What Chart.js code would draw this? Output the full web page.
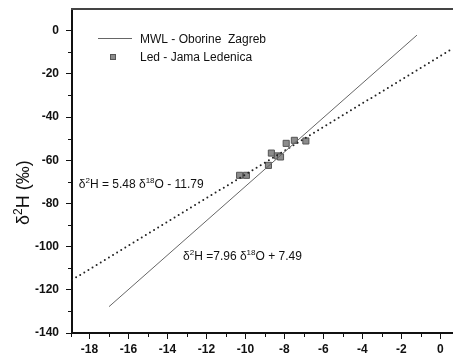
<!DOCTYPE html>
<html>
<head>
<meta charset="utf-8">
<script src="https://cdn.jsdelivr.net/npm/chart.js@4.4.0/dist/chart.umd.min.js"></script>
<style>
  html, body { margin: 0; padding: 0; background: #fff; }
  canvas { display: block; }
</style>
</head>
<body>
<canvas id="isoChart" width="453" height="357"></canvas>
<script>
const xTicks = [-18, -16, -14, -12, -10, -8, -6, -4, -2, 0];
const yTicks = [-140, -120, -100, -80, -60, -40, -20, 0];

// MWL (solid) and ice regression line (dotted), end points
const mwlX = [-17, -1.2];
const mwlY = [-127.8, -2.1];
const iceLineX = [-18.9, 0.65];
const iceLineY = [-115.4, -8.2];

// Led - Jama Ledenica samples
const iceX = [-10.3, -9.95, -8.82, -8.67, -8.36, -8.2, -7.91, -7.49, -6.9];
const iceY = [-67, -67, -62.4, -56.7, -58, -58.5, -52.2, -50.8, -51.1];

const legendLabels = ['MWL - Oborine  Zagreb', 'Led - Jama Ledenica'];
const yTitle = [['δ', false], ['2', true], ['H (‰)', false]];
const eqIce = [['δ', false], ['2', true], ['H = 5.48 δ', false], ['18', true], ['O - 11.79', false]];
const eqMwl = [['δ', false], ['2', true], ['H =7.96 δ', false], ['18', true], ['O + 7.49', false]];

const toPts = (xs, ys) => xs.map((x, i) => ({ x: x, y: ys[i] }));

const FONT = '"Liberation Sans", Arial, sans-serif';

// draws text with superscript parts, starting at x (left) on baseline y
function drawRich(ctx, parts, x, y, size) {
    let cx = x;
    parts.forEach(([txt, sup]) => {
        ctx.font = (sup ? Math.round(size * 0.65) : size) + 'px ' + FONT;
        ctx.fillText(txt, cx, sup ? y - size * 0.4 : y);
        cx += ctx.measureText(txt).width;
    });
    return cx - x;
}
function richWidth(ctx, parts, size) {
    let w = 0;
    parts.forEach(([txt, sup]) => {
        ctx.font = (sup ? Math.round(size * 0.65) : size) + 'px ' + FONT;
        w += ctx.measureText(txt).width;
    });
    return w;
}

const extras = {
    id: 'extras',
    afterDraw(chart) {
        const ctx = chart.ctx;
        const area = chart.chartArea;
        const xs = chart.scales.x, ys = chart.scales.y;
        ctx.save();

        // top frame line
        ctx.strokeStyle = '#444';
        ctx.lineWidth = 2;
        ctx.beginPath();
        ctx.moveTo(area.left - 1, area.top);
        ctx.lineTo(area.right, area.top);
        ctx.stroke();

        // minor ticks halfway between majors
        ctx.strokeStyle = '#111';
        ctx.lineWidth = 1;
        ctx.beginPath();
        for (let i = 0; i < xTicks.length - 1; i++) {
            const px = Math.round(xs.getPixelForValue((xTicks[i] + xTicks[i + 1]) / 2)) + 0.5;
            ctx.moveTo(px, area.bottom);
            ctx.lineTo(px, area.bottom + 4);
        }
        for (let i = 0; i < yTicks.length - 1; i++) {
            const py = Math.round(ys.getPixelForValue((yTicks[i] + yTicks[i + 1]) / 2)) + 0.5;
            ctx.moveTo(area.left, py);
            ctx.lineTo(area.left - 4, py);
        }
        // left axis runs a bit past the bottom
        ctx.moveTo(area.left - 0.5, area.bottom);
        ctx.lineTo(area.left - 0.5, area.bottom + 4);
        ctx.stroke();

        // legend
        const ds = chart.data.datasets;
        ctx.strokeStyle = ds[0].borderColor;
        ctx.lineWidth = 1;
        ctx.beginPath();
        ctx.moveTo(98, 38.5);
        ctx.lineTo(132, 38.5);
        ctx.stroke();
        ctx.fillStyle = ds[2].backgroundColor;
        ctx.strokeStyle = ds[2].borderColor;
        ctx.fillRect(110, 54, 6, 6);
        ctx.strokeRect(110.5, 54.5, 5, 5);
        ctx.fillStyle = '#111';
        ctx.font = '12px ' + FONT;
        ctx.textBaseline = 'alphabetic';
        ctx.textAlign = 'left';
        ctx.fillText(legendLabels[0], 140, 43);
        ctx.fillText(legendLabels[1], 140, 61);

        // equations
        drawRich(ctx, eqIce, xs.getPixelForValue(-18.55), ys.getPixelForValue(-72.8), 12);
        drawRich(ctx, eqMwl, xs.getPixelForValue(-13.2), ys.getPixelForValue(-106), 12);

        // y axis title, rotated
        const tSize = 18;
        const w = richWidth(ctx, yTitle, tSize);
        ctx.translate(29, ys.getPixelForValue(-75));
        ctx.rotate(-Math.PI / 2);
        drawRich(ctx, yTitle, -w / 2, 0, tSize);
        ctx.restore();
    }
};

new Chart(document.getElementById('isoChart'), {
    type: 'scatter',
    data: {
        datasets: [
            {
                label: legendLabels[0],
                data: toPts(mwlX, mwlY),
                showLine: true,
                borderColor: '#666',
                borderWidth: 1,
                pointRadius: 0
            },
            {
                label: 'fit',
                data: toPts(iceLineX, iceLineY),
                showLine: true,
                borderColor: '#222',
                borderWidth: 2,
                borderDash: [0, 4.8],
                borderCapStyle: 'round',
                pointRadius: 0
            },
            {
                label: legendLabels[1],
                data: toPts(iceX, iceY),
                pointStyle: 'rect',
                pointRadius: 4.3,
                backgroundColor: '#8c8c8c',
                borderColor: '#555',
                borderWidth: 1
            }
        ]
    },
    options: {
        responsive: false,
        animation: false,
        layout: { autoPadding: false, padding: { top: 9, left: 0, right: 0, bottom: 0 } },
        plugins: {
            legend: { display: false },
            tooltip: { enabled: false }
        },
        scales: {
            x: {
                min: -18.9,
                max: 0.65,
                afterBuildTicks: s => { s.ticks = xTicks.map(v => ({ value: v })); },
                afterFit: s => { s.height = 24; s.paddingLeft = 0; s.paddingRight = 0; },
                grid: { drawOnChartArea: false, tickLength: 6, tickColor: '#111', tickWidth: 1 },
                border: { display: true, color: '#111', width: 2 },
                ticks: {
                    color: '#111',
                    padding: 3,
                    maxRotation: 0,
                    font: { family: FONT, weight: 'bold', size: 12 }
                }
            },
            y: {
                min: -140,
                max: 10,
                afterBuildTicks: s => { s.ticks = yTicks.map(v => ({ value: v })); },
                afterFit: s => { s.width = 72; s.paddingTop = 0; s.paddingBottom = 0; },
                grid: { drawOnChartArea: false, tickLength: 6, tickColor: '#111', tickWidth: 1 },
                border: { display: true, color: '#111', width: 2 },
                ticks: {
                    color: '#111',
                    padding: 7,
                    font: { family: FONT, weight: 'bold', size: 12 }
                }
            }
        }
    },
    plugins: [extras]
});
</script>
</body>
</html>
